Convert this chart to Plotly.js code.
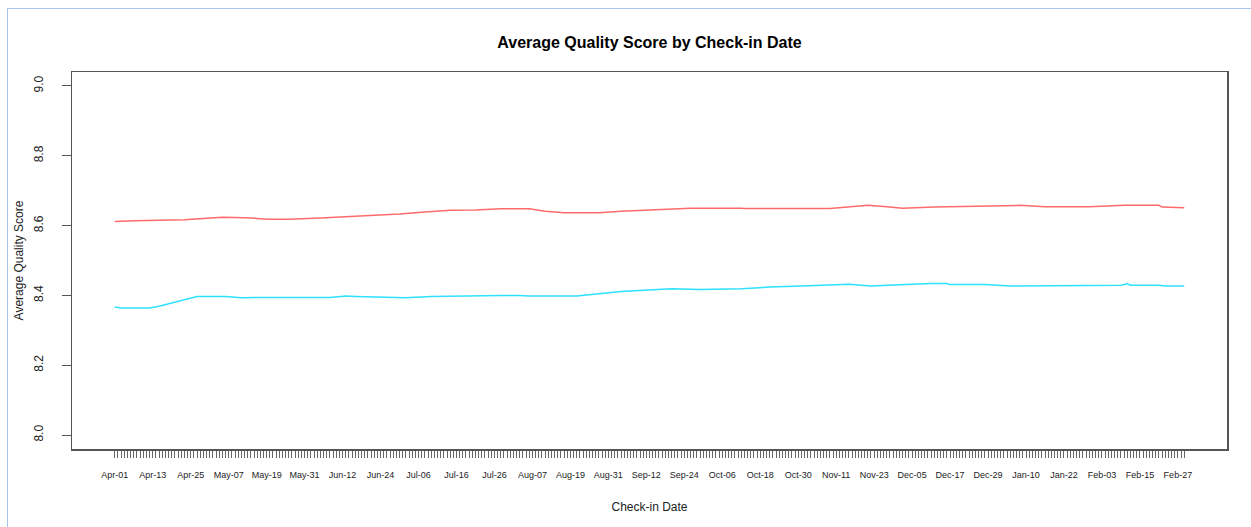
<!DOCTYPE html>
<html>
<head>
<meta charset="utf-8">
<script src="https://cdn.plot.ly/plotly-3.0.1.min.js"></script>
<style>
  html, body { margin: 0; padding: 0; background: #fff; }
  #chart { width: 1251px; height: 527px; }
  #frame { position: absolute; left: 7px; top: 8px; width: 1260px; height: 540px;
           border-left: 1px solid #a9c3ea; border-top: 1px solid #a9c3ea; pointer-events: none; }
</style>
</head>
<body>
<div id="chart"></div>
<div id="frame"></div>
<script>
// Tick labels, one every 12 check-in date categories (category index = position in date list)
const tickLabels = ["Apr-01","Apr-13","Apr-25","May-07","May-19","May-31","Jun-12","Jun-24",
  "Jul-06","Jul-16","Jul-26","Aug-07","Aug-19","Aug-31","Sep-12","Sep-24","Oct-06","Oct-18",
  "Oct-30","Nov-11","Nov-23","Dec-05","Dec-17","Dec-29","Jan-10","Jan-22","Feb-03","Feb-15","Feb-27"];
const tickIndex = [0,12,24,36,48,60,72,84,96,108,120,132,144,156,168,180,192,204,216,228,240,252,264,276,288,300,312,324,336];
const nCategories = 339;

// Red series (category index, average quality score)
const redIdx = [0,6,22,34,38,43,48,55,65,73,90,98,106,114,122,131,136,142,153,160,172,182,198,199,226,233,238,244,249,259,286,294,308,319,330,331,338];
const redVal = [8.612,8.614,8.617,8.624,8.623,8.622,8.618,8.618,8.622,8.625,8.633,8.639,8.644,8.645,8.648,8.648,8.641,8.637,8.637,8.641,8.646,8.650,8.650,8.649,8.649,8.653,8.658,8.654,8.650,8.653,8.658,8.654,8.654,8.658,8.658,8.653,8.651];

// Cyan series
const cyanIdx = [0,2,11,14,26,35,40,46,68,73,76,84,92,100,106,120,122,128,131,146,153,160,176,185,198,207,217,223,232,239,243,250,258,263,264,275,283,292,293,318,320,321,330,332,338];
const cyanVal = [8.367,8.364,8.364,8.369,8.397,8.397,8.393,8.394,8.394,8.398,8.397,8.394,8.393,8.397,8.398,8.401,8.400,8.400,8.398,8.398,8.405,8.411,8.419,8.417,8.419,8.424,8.427,8.429,8.432,8.427,8.428,8.431,8.434,8.434,8.431,8.431,8.427,8.427,8.429,8.429,8.433,8.429,8.429,8.427,8.427];

const yTicks = [8.0, 8.2, 8.4, 8.6, 8.8, 9.0];

const FONT = "Liberation Sans, Arial, sans-serif";
const span = nCategories - 1;

// one tick per category, label only every 12th
const allTickVals = [];
const allTickText = [];
for (let i = 0; i < nCategories; i++) {
  allTickVals.push(i);
  const k = tickIndex.indexOf(i);
  allTickText.push(k >= 0 ? tickLabels[k] : "");
}

const traces = [
  { x: redIdx, y: redVal, type: "scatter", mode: "lines",
    line: { color: "#ff6b6b", width: 1.5 }, hoverinfo: "skip", showlegend: false },
  { x: cyanIdx, y: cyanVal, type: "scatter", mode: "lines",
    line: { color: "#2ee1ff", width: 1.5 }, hoverinfo: "skip", showlegend: false }
];

const layout = {
  width: 1251, height: 527,
  margin: { l: 72, r: 24, t: 72, b: 78 },
  paper_bgcolor: "rgba(0,0,0,0)", plot_bgcolor: "#fff",
  font: { family: FONT, color: "#111" },
  title: { text: "Average Quality Score by Check-in Date",
    font: { family: FONT, size: 16, weight: "bold", color: "#000" },
    x: 0.5, xref: "paper", xanchor: "center", y: 1 - 42 / 527, yref: "container", yanchor: "middle" },
  xaxis: {
    range: [-0.04 * span, span * 1.04],
    showgrid: false, zeroline: false,
    showline: true, mirror: true, linecolor: "#555", linewidth: 1.5,
    tickmode: "array", tickvals: allTickVals, ticktext: allTickText,
    ticks: "outside", ticklen: 7, tickcolor: "#666", tickwidth: 1,
    tickfont: { family: FONT, size: 9, color: "#222" },
    ticklabelstandoff: 10, tickangle: 0,
    title: { text: "Check-in Date", font: { family: FONT, size: 12, color: "#222" }, standoff: 23 }
  },
  yaxis: {
    range: [7.96, 9.04],
    showgrid: false, zeroline: false,
    showline: true, mirror: true, linecolor: "#555", linewidth: 1.5,
    tickmode: "array", tickvals: yTicks, ticktext: yTicks.map(v => v.toFixed(1)),
    ticks: "outside", ticklen: 9, tickcolor: "#555", tickwidth: 1,
    tickfont: { family: FONT, size: 12, color: "#222" },
    tickangle: -90, ticklabelstandoff: 14,
    title: { text: "Average Quality Score", font: { family: FONT, size: 12, color: "#222" }, standoff: 5 }
  }
};

Plotly.newPlot("chart", traces, layout, { staticPlot: true, displayModeBar: false });
</script>
</body>
</html>
